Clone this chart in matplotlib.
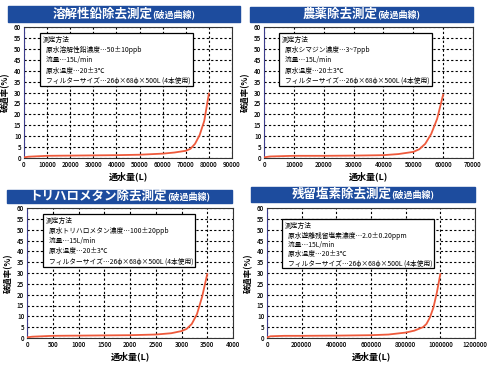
import matplotlib
matplotlib.use("Agg")
import matplotlib.pyplot as plt
from matplotlib.patches import Rectangle
from matplotlib.ticker import FuncFormatter

plt.rcParams["font.family"] = ["Noto Sans CJK JP", "DejaVu Sans"]

W, H = 490, 365

# --- data ------------------------------------------------------------------
lead_x = [0, 2000, 10000, 20000, 30000, 40000, 50000, 60000, 65000, 70000,
          72000, 74000, 76000, 78000, 80000]
lead_y = [0.3, 0.6, 1.0, 1.1, 1.2, 1.3, 1.5, 2.0, 2.5, 3.3, 4.2, 6.5, 10.5, 17, 29.5]

agro_x = [0, 2000, 10000, 20000, 30000, 40000, 45000, 50000, 52000, 54000,
          56000, 58000, 60000]
agro_y = [0.3, 0.7, 1.0, 1.0, 1.1, 1.3, 1.8, 2.8, 4.0, 6.5, 11, 18, 29]

thm_x = [0, 100, 500, 1000, 1500, 2000, 2500, 2800, 3000, 3100, 3200, 3300, 3400, 3500]
thm_y = [0.3, 0.6, 1.0, 1.1, 1.2, 1.3, 1.6, 2.2, 3.2, 4.2, 6.5, 11, 19, 29.5]

chl_x = [0, 20000, 100000, 200000, 400000, 600000, 700000, 800000, 850000,
         900000, 920000, 940000, 960000, 980000, 1000000]
chl_y = [0.3, 0.8, 1.0, 1.0, 1.1, 1.3, 1.6, 2.5, 3.4, 5.0, 6.5, 9.5, 14, 21, 29.5]

titles = ["溶解性鉛除去測定", "農薬除去測定", "トリハロメタン除去測定", "残留塩素除去測定"]
subtitle = "(破過曲線)"

notes = [
    "原水溶解性鉛濃度…50±10ppb",
    "原水シマジン濃度…3~7ppb",
    "原水トリハロメタン濃度…100±20ppb",
    "原水遊離残留塩素濃度…2.0±0.20ppm",
]
common_notes = ["流量…15L/min", "原水温度…20±3℃", "フィルターサイズ…26φ×68φ×500L (4本使用)"]

x_limits = [90000, 70000, 4000, 1200000]
x_steps = [10000, 10000, 500, 200000]
y_ticks = list(range(0, 61, 5))

BANNER = "#1d4c9e"
CURVE = "#ee5a3c"


def px_rect(left, right, top, bottom):
    return [left / W, 1 - bottom / H, (right - left) / W, (bottom - top) / H]


def draw_panel(fig, axes_px, banner_px, box_px, title, note, x, y, xmax, step):
    # title banner
    bl, br, bt, bb = banner_px
    fig.patches.append(Rectangle((bl / W, 1 - bb / H), (br - bl) / W, (bb - bt) / H,
                                 transform=fig.transFigure, color=BANNER, zorder=0))
    cy = 1 - (bt + bb) / 2 / H
    cx = (bl + br) / 2 / W
    t1 = fig.text(cx, cy, title, color="white", fontsize=9, fontweight="bold",
                  ha="right", va="center")
    t2 = fig.text(cx, cy, subtitle, color="white", fontsize=6.5, fontweight="bold",
                  ha="left", va="center")
    fig.canvas.draw()
    r = fig.canvas.get_renderer()
    w1 = t1.get_window_extent(r).width / W
    w2 = t2.get_window_extent(r).width / W
    start = cx - (w1 + w2) / 2
    t1.set_ha("left")
    t1.set_x(start)
    t2.set_x(start + w1)

    ax = fig.add_axes(px_rect(*axes_px))
    ax.plot(x, y, color=CURVE, lw=1.3, zorder=3)
    ax.set_xlim(0, xmax)
    ax.set_ylim(0, 60)
    ax.set_xticks(range(0, xmax + 1, step))
    ax.set_yticks(y_ticks)
    ax.xaxis.set_major_formatter(FuncFormatter(lambda v, p: f"{int(v)}"))
    ax.grid(True, color="black", linestyle=(0, (2, 2)), linewidth=0.8)
    ax.tick_params(labelsize=4.6, length=0, pad=2)
    for lab in ax.get_xticklabels() + ax.get_yticklabels():
        lab.set_fontweight("medium")
    for s in ax.spines.values():
        s.set_color("#333333")
        s.set_linewidth(0.8)
    ax.spines["left"].set_color("#3c3c8c")
    ax.set_ylabel("破過率(%)", fontsize=6, fontweight="bold", labelpad=3)
    ax.set_xlabel("通水量(L)", fontsize=6.5, fontweight="bold", labelpad=2)

    # measurement-method box
    l, rgt, top, bot = box_px
    al, ar, at, ab = axes_px
    bx0 = (l - al) / (ar - al)
    by0 = (ab - bot) / (ab - at)
    bw = (rgt - l) / (ar - al)
    bh = (bot - top) / (ab - at)
    ax.add_patch(Rectangle((bx0, by0), bw, bh, transform=ax.transAxes,
                           facecolor="white", edgecolor="black", lw=0.9, zorder=4))
    lines = ["測定方法"] + ["  " + s for s in [note] + common_notes]
    for i, s in enumerate(lines):
        ax.text(bx0 + 0.015, by0 + bh - 0.025 - i * bh * 0.19, s, transform=ax.transAxes,
                fontsize=4.85, va="top", ha="left", zorder=5)
    return ax


fig = plt.figure(figsize=(W / 100, H / 100), dpi=100)

panels = [
    ((24, 232, 27, 158), (8, 240, 6, 22), (40, 193, 33, 86), lead_x, lead_y),
    ((264, 473, 27, 158), (250, 473, 7, 22), (279, 432, 33, 86), agro_x, agro_y),
    ((27, 233, 208, 338), (7, 232, 190, 203), (43, 195, 214, 267), thm_x, thm_y),
    ((267, 475, 208, 338), (251, 475, 187, 202), (282, 434, 219, 268), chl_x, chl_y),
]

for i, (axp, bnp, bxp, xs, ys) in enumerate(panels):
    draw_panel(fig, axp, bnp, bxp, titles[i], notes[i], xs, ys, x_limits[i], x_steps[i])

fig.savefig("out.png", dpi=100)
